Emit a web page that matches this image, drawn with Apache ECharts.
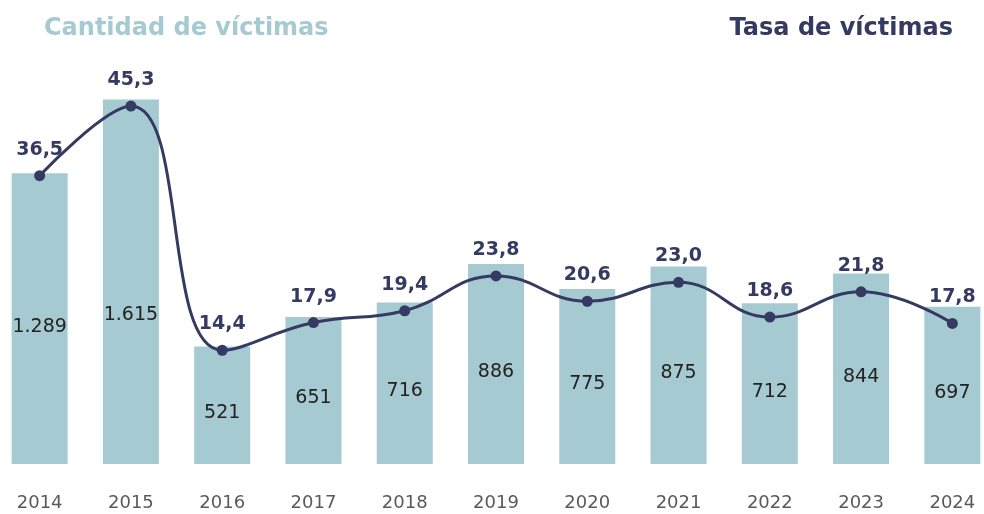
<!DOCTYPE html>
<html><head><meta charset="utf-8">
<script src="https://cdn.jsdelivr.net/npm/echarts@6/dist/echarts.min.js"></script>
<style>html,body{margin:0;padding:0;background:#fff;overflow:hidden;width:984px;height:514px;position:relative}
#c{position:absolute;left:-6px;top:0;width:1004px;height:514px}</style>
</head><body><div id="c"></div>
<script>
const years = ['2014','2015','2016','2017','2018','2019','2020','2021','2022','2023','2024'];
const victims = [1289,1615,521,651,716,886,775,875,712,844,697];
const rate = [36.5,45.3,14.4,17.9,19.4,23.8,20.6,23.0,18.6,21.8,17.8];

const fmtThousands = v => String(v).replace(/\B(?=(\d{3})+(?!\d))/g, '.');
const fmtComma = v => v.toFixed(1).replace('.', ',');

// the tallest bar's label sits lower in the original
const barData = victims.map((v, i) => i === 1 ? {value: v, label: {offset: [0, 33]}} : v);

const chart = echarts.init(document.getElementById('c'));
chart.setOption({
  backgroundColor: '#fff',
  animation: false,
  title: [
    {text: 'Cantidad de víctimas', left: 45, top: 12,
     textStyle: {color: '#a6cad2', fontSize: 24, fontWeight: 'bold', fontFamily: 'DejaVu Sans'}},
    {text: 'Tasa de víctimas', right: 40, top: 12,
     textStyle: {color: '#353a62', fontSize: 24, fontWeight: 'bold', fontFamily: 'DejaVu Sans'}}
  ],
  grid: {left: 0, right: 0, top: 40, bottom: 50, containLabel: false},
  xAxis: {
    type: 'category', data: years, boundaryGap: true,
    axisLine: {show: false}, axisTick: {show: false},
    axisLabel: {color: '#5a5a5a', fontSize: 18, margin: 30, fontFamily: 'DejaVu Sans'}
  },
  yAxis: [
    {type: 'value', min: 0, max: 1879, show: false, splitLine: {show: false}},
    {type: 'value', min: 0, max: 53.67, show: false, splitLine: {show: false}}
  ],
  series: [
    {
      type: 'bar', data: barData, yAxisIndex: 0, barWidth: 56,
      itemStyle: {color: '#a6cad2'},
      label: {show: true, position: 'inside', offset: [0, 8], color: '#222',
        fontSize: 19, fontFamily: 'DejaVu Sans', formatter: p => fmtThousands(p.value)}
    },
    {
      type: 'line', data: rate, yAxisIndex: 1, smooth: 0.45,
      symbol: 'circle', symbolSize: 11,
      lineStyle: {color: '#353a62', width: 3},
      itemStyle: {color: '#353a62'},
      label: {show: true, position: 'top', distance: 11, color: '#353a62',
        fontSize: 19, fontWeight: 'bold', fontFamily: 'DejaVu Sans', formatter: p => fmtComma(p.value)}
    }
  ]
});
</script></body></html>
